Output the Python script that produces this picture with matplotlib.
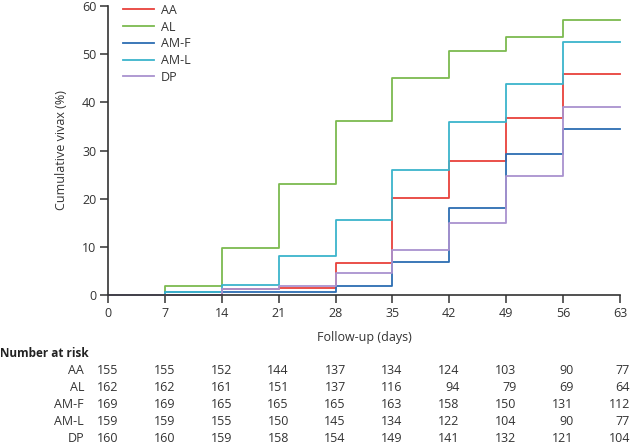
import matplotlib
matplotlib.use("Agg")
import matplotlib.pyplot as plt
import matplotlib.transforms as mtransforms

plt.rcParams['font.family'] = ['Open Sans', 'DejaVu Sans']

days = [0, 7, 14, 21, 28, 35, 42, 49, 56, 63]
groups = ["AA", "AL", "AM-F", "AM-L", "DP"]
aa = [0, 0.0, 1.3, 1.4, 6.6, 20.1, 27.9, 36.8, 45.8, 45.8]
al = [0, 1.9, 9.7, 23.0, 36.2, 45.0, 50.6, 53.5, 57.1, 57.1]
amf = [0, 0.6, 0.7, 0.7, 1.9, 6.8, 18.0, 29.3, 34.4, 34.4]
aml = [0, 0.7, 2.0, 8.1, 15.6, 26.0, 36.0, 43.8, 52.6, 52.6]
dp = [0, 0.0, 1.3, 1.9, 4.6, 9.3, 14.9, 24.8, 39.1, 39.1]
series = [aa, al, amf, aml, dp]
colors = ["#e8413c", "#7cba4f", "#2c6db2", "#3cb4cc", "#a992cf"]

at_risk = {
    "AA": [155, 155, 152, 144, 137, 134, 124, 103, 90, 77],
    "AL": [162, 162, 161, 151, 137, 116, 94, 79, 69, 64],
    "AM-F": [169, 169, 165, 165, 165, 163, 158, 150, 131, 112],
    "AM-L": [159, 159, 155, 150, 145, 134, 122, 104, 90, 77],
    "DP": [160, 160, 159, 158, 154, 149, 141, 132, 121, 104],
}

FS = 9
W, H = 630, 444
fig = plt.figure(figsize=(W / 100, H / 100), dpi=100)
ax = fig.add_axes([108 / W, 1 - 295 / H, (620 - 108) / W, (295 - 6) / H])

for name, vals, c in zip(groups, series, colors):
    ax.step(days, vals, where='post', color=c, lw=1.3, label=name, clip_on=False)

ax.set_xlim(0, 63)
ax.set_ylim(0, 60)
ax.set_xticks(days)
ax.set_yticks(range(0, 61, 10))
for s in ["top", "right"]:
    ax.spines[s].set_visible(False)
for s in ["left", "bottom"]:
    ax.spines[s].set_color("#333333")
    ax.spines[s].set_linewidth(1.2)
ax.tick_params(axis='both', direction='out', length=5.5, width=1.1, color="#333333",
               labelsize=FS, labelcolor="#333333", pad=3)
ax.set_xlabel("Follow-up (days)", fontsize=FS, color="#333333", labelpad=8)
ax.set_ylabel("Cumulative vivax (%)", fontsize=FS, color="#333333", labelpad=10)

leg = ax.legend(loc="upper left", bbox_to_anchor=(0.02, 1.025), frameon=False,
                fontsize=FS, handlelength=2.5, handletextpad=0.5, labelspacing=0.3,
                borderaxespad=0.0)
for t in leg.get_texts():
    t.set_color("#333333")

# Number at risk table
fig.text(0 / W, 1 - 353 / H, "Number at risk", fontsize=8.5, fontweight="bold",
         color="#222222", ha="left", va="center")
trans = mtransforms.blended_transform_factory(ax.transData, fig.transFigure)
row_y = [370, 387, 404, 421, 438.5]
for g, y in zip(groups, row_y):
    fy = 1 - y / H
    fig.text(84 / W, fy, g, fontsize=FS, color="#333333", ha="right", va="center")
    for d, n in zip(days, at_risk[g]):
        ax.text(d + 1.25, fy, str(n), transform=trans, fontsize=FS, color="#333333",
                ha="right", va="center", clip_on=False)

fig.savefig("out.png", dpi=100)
